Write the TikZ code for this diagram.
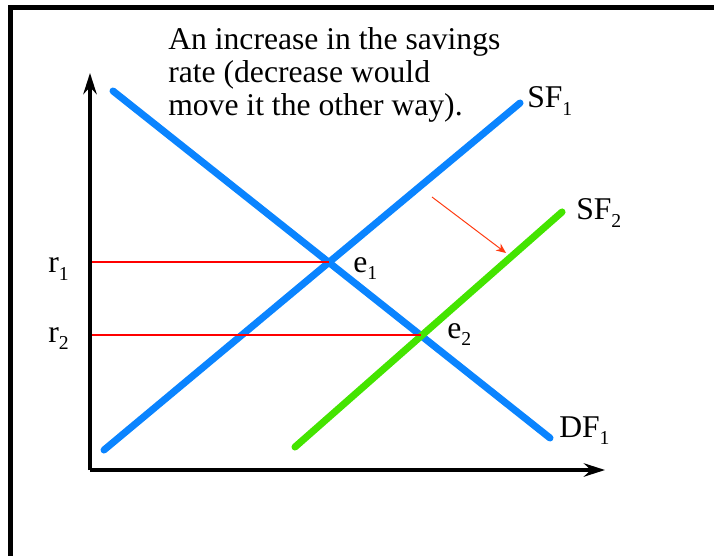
\documentclass[tikz,border=0pt]{standalone}
\usepackage{fontspec}
\setmainfont{Liberation Serif}
\usetikzlibrary{arrows.meta}

% Lowered subscript as in the slide
\newcommand{\lowsub}[1]{\raisebox{-5pt}{\fontsize{14}{14}\selectfont #1}}

\begin{document}
\begin{tikzpicture}[x=0.025cm, y=-0.025cm, font=\fontsize{22.5}{23.5}\selectfont]
    \definecolor{curveBlue}{HTML}{0A84FF}
    \definecolor{curveGreen}{HTML}{44E400}
    \definecolor{shiftRed}{HTML}{FF3A10}

    \tikzset{
        axis/.style={line width=2.8pt, -{Stealth[length=15pt, width=9.5pt]}},
        curve/.style={line width=5pt, line cap=round},
        level/.style={draw=red, line width=0.75pt},
        tag/.style={anchor=base west, inner sep=0pt}
    }

    % Fix the page size
    \useasboundingbox (0,0) rectangle (714,556);

    % Draw frame
    \draw[line width=3.6pt] (10.5,570) -- (10.5,7.5) -- (730,7.5);

    % Define axis points
    \coordinate (origin) at (90,470);
    \coordinate (yTop) at (90,73);
    \coordinate (xEnd) at (605,470);

    % Draw axes
    \draw[axis] (origin) -- (yTop);
    \draw[axis] (origin) -- (xEnd);

    % Define coordinates for the curves
    \coordinate (DFa) at (113,91);
    \coordinate (DFb) at (550,438);
    \coordinate (SFa) at (104,450);
    \coordinate (SFb) at (520,103);
    \coordinate (SGa) at (295,447);
    \coordinate (SGb) at (562,212);

    % Draw the curves
    \draw[curve, curveBlue] (DFa) -- (DFb);
    \draw[curve, curveBlue] (SFa) -- (SFb);
    \draw[curve, curveGreen] (SGa) -- (SGb);

    % Equilibrium points and interest rate levels
    \coordinate (e1) at (329,262);
    \coordinate (e2) at (421,335);
    \coordinate (r1) at (92,262);
    \coordinate (r2) at (92,335);
    \draw[level] (r1) -- (e1);
    \draw[level] (r2) -- (e2);

    % Shift arrow
    \coordinate (shiftA) at (432,197);
    \coordinate (shiftB) at (506,253);
    \draw[shiftRed, line width=0.7pt, -{Stealth[length=7pt, width=6pt]}] (shiftA) -- (shiftB);

    % Labels
    \node[tag] (r1label) at (48,273) {r\lowsub{1}};
    \node[tag] (r2label) at (48,342) {r\lowsub{2}};
    \node[tag] (e1label) at (353,272) {e\lowsub{1}};
    \node[tag] (e2label) at (447,338) {e\lowsub{2}};
    \node[tag] (SF1label) at (527,108) {SF\lowsub{1}};
    \node[tag] (SF2label) at (576,220) {SF\lowsub{2}};
    \node[tag] (DF1label) at (559,437) {DF\lowsub{1}};

    % Caption text
    \node[anchor=north west, inner sep=0pt, align=left] (note) at (168,27)
        {An increase in the savings\\rate (decrease would\\move it the other way).};

\end{tikzpicture}
\end{document}
